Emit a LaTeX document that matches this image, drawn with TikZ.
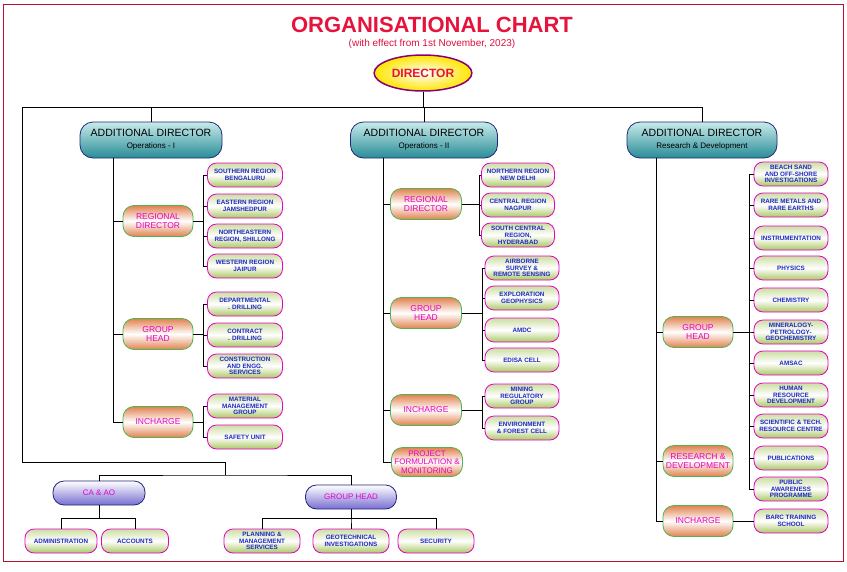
\documentclass[tikz,border=0pt]{standalone}
\usepackage{fontspec}
\setmainfont{Liberation Sans}
\usetikzlibrary{shapes.geometric}
\definecolor{tealdk}{RGB}{40,140,150}
\definecolor{teallt}{RGB}{200,235,235}
\definecolor{navy}{RGB}{30,40,120}
\definecolor{orng}{RGB}{225,130,80}
\definecolor{grn}{RGB}{80,180,80}
\definecolor{oliv}{RGB}{170,200,100}
\definecolor{mag}{RGB}{230,0,200}
\definecolor{lblue}{RGB}{30,40,200}
\definecolor{purp}{RGB}{120,110,210}
\definecolor{redt}{RGB}{230,20,60}
\tikzset{
 adbox/.style={draw=navy,line width=0.8pt,rounded corners=13pt,top color=teallt,bottom color=tealdk,minimum width=#1,minimum height=36,align=center,inner sep=1pt},
 midbox/.style={draw=grn,line width=0.8pt,rounded corners=11pt,top color=orng,bottom color=orng,middle color=white,minimum width=#1,minimum height=31,align=center,text=mag,font=\fontsize{8.5}{9.5}\selectfont,inner sep=1pt},
 leafbox/.style={draw=mag,line width=0.8pt,rounded corners=9pt,top color=oliv!60,bottom color=oliv,middle color=white,minimum width=#1,minimum height=24,align=center,text=lblue,font=\fontsize{6.3}{6.8}\selectfont\bfseries,inner sep=0.5pt},
 purbox/.style={draw=navy,line width=0.8pt,rounded corners=11pt,top color=white,bottom color=purp,minimum width=#1,minimum height=24,align=center,text=mag,font=\fontsize{8}{9}\selectfont,inner sep=1pt},
 ln/.style={line width=0.9pt,black}
}
\begin{document}
\begin{tikzpicture}[x=1pt,y=-1pt]
\useasboundingbox[fill=white] (0,0) rectangle (847,571);
\draw[redt!80!black,line width=0.8pt] (3,4) rectangle (843,561);
\node (title) at (432,25) {\fontsize{22}{24}\selectfont\bfseries\color{redt}ORGANISATIONAL CHART};
\node (sub) at (432,44) {\fontsize{10}{11}\selectfont\color{redt!80!purple}(with effect from 1st November, 2023)};
\node[ellipse,draw=purple!70!blue,line width=1.5pt,inner color=white,outer color=yellow!80!orange,minimum width=88,minimum height=36,text=redt,font=\fontsize{12}{13}\selectfont\bfseries] (dir) at (423,73) {DIRECTOR};
% additional directors
\node[adbox=142] (ad1) at (151,140) {\fontsize{10.5}{12}\selectfont ADDITIONAL DIRECTOR\\\fontsize{8}{9}\selectfont Operations - I};
\node[adbox=147] (ad2) at (424,140) {\fontsize{10.5}{12}\selectfont ADDITIONAL DIRECTOR\\\fontsize{8}{9}\selectfont Operations - II};
\node[adbox=150] (ad3) at (702,140) {\fontsize{10.5}{12}\selectfont ADDITIONAL DIRECTOR\\\fontsize{8}{9}\selectfont Research \& Development};
\coordinate (top) at (423,107);
\coordinate (lft) at (22,107);
\coordinate (rgt) at (702,107);
\draw[ln] (dir.south) -- (top);
\draw[ln] (lft) -- (rgt);
\draw[ln] (ad1.north) -- (ad1.north|-top);
\draw[ln] (ad2.north) -- (ad2.north|-top);
\draw[ln] (ad3.north) -- (rgt);
% column 1
\node[midbox=70] (rd1) at (158,221) {REGIONAL\\DIRECTOR};
\node[midbox=70] (gh1) at (158,334) {GROUP\\HEAD};
\node[midbox=70] (in1) at (158,422) {INCHARGE};
\coordinate (t1) at (113,158);
\draw[ln] (t1) |- (in1.west);
\draw[ln] (rd1.west) -- (rd1.west-|t1);
\draw[ln] (gh1.west) -- (gh1.west-|t1);
\foreach \y/\t [count=\i] in {175/{SOUTHERN REGION\\BENGALURU},206/{EASTERN REGION\\JAMSHEDPUR},236/{NORTHEASTERN\\REGION, SHILLONG},266/{WESTERN REGION\\JAIPUR}}
 {\node[leafbox=75] (a\i) at (245,\y) {\t}; \draw[ln] (rd1.east) -- (203,221) |- (a\i.west);}
\foreach \y/\t [count=\i] in {304/{DEPARTMENTAL\\. DRILLING},335/{CONTRACT\\. DRILLING},366/{CONSTRUCTION\\AND ENGG.\\SERVICES}}
 {\node[leafbox=75] (b\i) at (245,\y) {\t}; \draw[ln] (gh1.east) -- (203,334) |- (b\i.west);}
\foreach \y/\t [count=\i] in {406/{MATERIAL\\MANAGEMENT\\GROUP},437/{SAFETY UNIT}}
 {\node[leafbox=75] (c\i) at (245,\y) {\t}; \draw[ln] (in1.east) -- (203,422) |- (c\i.west);}
% column 2
\node[midbox=71] (rd2) at (426,204) {REGIONAL\\DIRECTOR};
\node[midbox=71] (gh2) at (426,313) {GROUP\\HEAD};
\node[midbox=71] (in2) at (426,410) {INCHARGE};
\node[midbox=71,minimum height=29,font=\fontsize{8}{8.6}\selectfont] (pf) at (427,462) {PROJECT\\FORMULATION \&\\MONITORING};
\coordinate (t2) at (383,158);
\draw[ln] (t2) |- (pf.west);
\foreach \n in {rd2,gh2,in2} \draw[ln] (\n.west) -- (\n.west-|t2);
\foreach \y/\t [count=\i] in {175/{NORTHERN REGION\\NEW DELHI},205/{CENTRAL REGION\\NAGPUR},235/{SOUTH CENTRAL\\REGION,\\HYDERABAD}}
 {\node[leafbox=73] (d\i) at (518,\y) {\t}; \draw[ln] (rd2.east) -- (479,204) |- (d\i.west);}
\foreach \y/\t [count=\i] in {268/{AIRBORNE\\SURVEY \&\\REMOTE SENSING},298/{EXPLORATION\\GEOPHYSICS},330/{AMDC},360/{EDISA CELL}}
 {\node[leafbox=74] (e\i) at (522,\y) {\t}; \draw[ln] (gh2.east) -- (482,313) |- (e\i.west);}
\foreach \y/\t [count=\i] in {396/{MINING\\REGULATORY\\GROUP},428/{ENVIRONMENT\\\& FOREST CELL}}
 {\node[leafbox=74] (f\i) at (522,\y) {\t}; \draw[ln] (in2.east) -- (482,410) |- (f\i.west);}
% column 3
\node[midbox=70] (gh3) at (698,332) {GROUP\\HEAD};
\node[midbox=70] (rd3) at (698,461) {RESEARCH \&\\DEVELOPMENT};
\node[midbox=70] (in3) at (698,521) {INCHARGE};
\coordinate (t3) at (656,158);
\draw[ln] (t3) |- (in3.west);
\foreach \n in {gh3,rd3} \draw[ln] (\n.west) -- (\n.west-|t3);
\foreach \y/\t [count=\i] in {174/{BEACH SAND\\AND OFF-SHORE\\INVESTIGATIONS},205/{RARE METALS AND\\RARE EARTHS},238/{INSTRUMENTATION},268/{PHYSICS},300/{CHEMISTRY},332/{MINERALOGY-\\PETROLOGY-\\GEOCHEMISTRY},363/{AMSAC},395/{HUMAN\\RESOURCE\\DEVELOPMENT},426/{SCIENTIFIC \& TECH.\\RESOURCE CENTRE},458/{PUBLICATIONS},489/{PUBLIC\\AWARENESS\\PROGRAMME}}
 {\node[leafbox=74] (g\i) at (791,\y) {\t}; \draw[ln] (gh3.east) -- (749,332) |- (g\i.west);}
\node[leafbox=74] (h1) at (791,521) {BARC TRAINING\\SCHOOL};
\draw[ln] (in3.east) -- (h1.west);
% bottom
\node[purbox=92] (ca) at (99,493) {CA \& AO};
\node[purbox=91] (gh4) at (351,497) {GROUP HEAD};
\coordinate (b1) at (22,462);
\coordinate (b2) at (225,462);
\coordinate (b3) at (225,475);
\draw[ln] (lft) -- (b1) -- (b2) -- (b3);
\draw[ln] (ca.north) |- (b3) -| (gh4.north);
\foreach \x/\w/\t [count=\i] in {61/72/{ADMINISTRATION},135/67/{ACCOUNTS}}
 {\node[leafbox=\w] (k\i) at (\x,541) {\t}; \draw[ln] (ca.south) -- (99,518) -| (k\i.north);}
\foreach \x/\t [count=\i] in {262/{PLANNING \&\\MANAGEMENT\\SERVICES},351/{GEOTECHNICAL\\INVESTIGATIONS},436/{SECURITY}}
 {\node[leafbox=76] (m\i) at (\x,541) {\t}; \draw[ln] (gh4.south) -- (351,518) -| (m\i.north);}
\end{tikzpicture}
\end{document}
